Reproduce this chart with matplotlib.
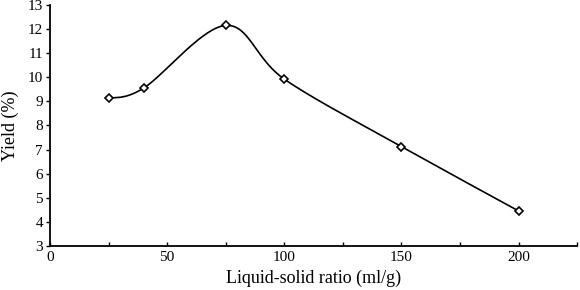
import numpy as np
import matplotlib
matplotlib.use("Agg")
import matplotlib.pyplot as plt

ratio = [25, 40, 75, 100, 150, 200]
yield_pct = [9.12, 9.55, 12.15, 9.92, 7.12, 4.45]
xticks = [0, 50, 100, 150, 200]
yticks = list(range(3, 14))

def smooth(x, y, n=60, t=1/6):
    x = np.asarray(x, float); y = np.asarray(y, float)
    px = np.concatenate([[x[0]], x, [x[-1]]])
    py = np.concatenate([[y[0]], y, [y[-1]]])
    xs, ys = [], []
    s = np.linspace(0, 1, n)
    for i in range(1, len(px) - 2):
        p0 = np.array([px[i], py[i]]); p3 = np.array([px[i+1], py[i+1]])
        p1 = p0 + t * (np.array([px[i+1], py[i+1]]) - np.array([px[i-1], py[i-1]]))
        p2 = p3 - t * (np.array([px[i+2], py[i+2]]) - np.array([px[i], py[i]]))
        b = ((1-s)**3)[:, None]*p0 + (3*(1-s)**2*s)[:, None]*p1 + (3*(1-s)*s**2)[:, None]*p2 + (s**3)[:, None]*p3
        xs.append(b[:, 0]); ys.append(b[:, 1])
    return np.concatenate(xs), np.concatenate(ys)

plt.rcParams['font.family'] = ['Liberation Serif', 'DejaVu Serif']
fig = plt.figure(figsize=(5.8, 2.9), dpi=100)
ax = fig.add_axes([0.0862, 0.152, 0.909, 0.831])

sx, sy = smooth(ratio, yield_pct)
ax.plot(sx, sy, color='black', lw=1.2, zorder=2)
ax.plot(ratio, yield_pct, linestyle='none', marker='D', markersize=4.2,
        markerfacecolor='white', markeredgecolor='black', markeredgewidth=1.2, zorder=3)

ax.set_xlim(0, 225)
ax.set_ylim(3, 13)
ax.set_xticks(xticks)
ax.set_xticks(np.arange(25, 226, 50), minor=True)
ax.set_yticks(yticks)
ax.tick_params(axis='x', which='both', direction='in', length=3, width=1, labelsize=11, pad=4)
ax.tick_params(axis='y', which='both', direction='out', length=3, width=1, labelsize=11, pad=2)
for sp in ['top', 'right']:
    ax.spines[sp].set_visible(False)
for sp in ['left', 'bottom']:
    ax.spines[sp].set_linewidth(1.3)
ax.set_xlabel('Liquid-solid ratio (ml/g)', fontsize=13, labelpad=4)
ax.set_ylabel('Yield (%)', fontsize=13, labelpad=6)

fig.savefig('out.png', dpi=100)
